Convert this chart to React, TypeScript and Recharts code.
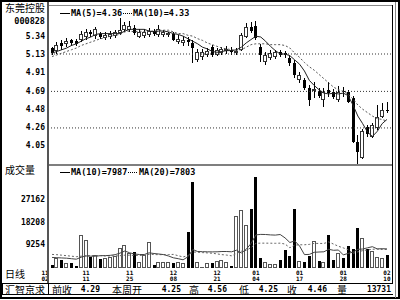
import React from "react"
import { ComposedChart, Bar, Line, XAxis, YAxis, ReferenceLine } from "recharts"

// daily candles
const opens = [
  5.20, 5.17, 5.26, 5.25, 5.29, 5.28, 5.30, 5.33, 5.39, 5.34,
  5.37, 5.32, 5.33, 5.34, 5.38, 5.41, 5.41, 5.44, 5.33, 5.34,
  5.35, 5.40, 5.35, 5.35, 5.36, 5.37, 5.27, 5.26, 5.30, 5.26,
  5.06, 5.10, 5.12, 5.21, 5.12, 5.14, 5.16, 5.18, 5.15, 5.18,
  5.33, 5.45, 5.46, 5.21, 5.04, 5.08, 5.10, 5.15, 5.14, 5.08,
  5.02, 4.82, 4.82, 4.73, 4.69, 4.70, 4.59, 4.71, 4.68, 4.59,
  4.70, 4.68, 4.61, 4.10, 3.91, 4.27, 4.15, 4.26, 4.39, 4.47,
]
const highs = [
  5.21, 5.27, 5.30, 5.32, 5.31, 5.31, 5.40, 5.42, 5.41, 5.45,
  5.39, 5.39, 5.40, 5.41, 5.55, 5.51, 5.52, 5.47, 5.42, 5.42,
  5.44, 5.42, 5.47, 5.41, 5.39, 5.39, 5.35, 5.34, 5.33, 5.29,
  5.19, 5.19, 5.20, 5.24, 5.20, 5.21, 5.23, 5.21, 5.20, 5.38,
  5.49, 5.51, 5.52, 5.25, 5.15, 5.18, 5.18, 5.18, 5.17, 5.12,
  5.06, 4.92, 4.85, 4.77, 4.80, 4.73, 4.73, 4.80, 4.72, 4.75,
  4.74, 4.71, 4.64, 4.18, 4.25, 4.29, 4.32, 4.53, 4.55, 4.56,
]
const lows = [
  5.12, 5.13, 5.18, 5.21, 5.23, 5.22, 5.27, 5.30, 5.33, 5.31,
  5.31, 5.29, 5.31, 5.32, 5.35, 5.39, 5.39, 5.35, 5.32, 5.32,
  5.33, 5.34, 5.33, 5.33, 5.33, 5.28, 5.25, 5.22, 5.23, 5.02,
  5.04, 5.06, 5.10, 5.10, 5.11, 5.12, 5.13, 5.12, 5.12, 5.16,
  5.32, 5.38, 5.30, 5.04, 5.00, 5.06, 5.07, 5.10, 5.08, 4.99,
  4.85, 4.79, 4.71, 4.52, 4.61, 4.61, 4.51, 4.62, 4.60, 4.56,
  4.63, 4.55, 4.08, 3.83, 3.89, 4.15, 4.14, 4.24, 4.38, 4.43,
]
const closes = [
  5.14, 5.24, 5.22, 5.28, 5.26, 5.25, 5.37, 5.39, 5.36, 5.42,
  5.33, 5.35, 5.37, 5.39, 5.41, 5.47, 5.46, 5.38, 5.39, 5.39,
  5.40, 5.37, 5.43, 5.39, 5.38, 5.30, 5.31, 5.30, 5.27, 5.20,
  5.15, 5.15, 5.17, 5.12, 5.18, 5.19, 5.19, 5.15, 5.17, 5.35,
  5.45, 5.40, 5.32, 5.12, 5.12, 5.14, 5.155, 5.12, 5.12, 5.03,
  4.88, 4.88, 4.73, 4.59, 4.72, 4.64, 4.68, 4.67, 4.62, 4.68,
  4.68, 4.57, 4.10, 3.98, 4.22, 4.19, 4.30, 4.39, 4.47, 4.46,
]
const ma5 = [
  5.14, 5.16, 5.18, 5.20, 5.23, 5.25, 5.28, 5.31, 5.33, 5.36,
  5.37, 5.37, 5.37, 5.37, 5.37, 5.40, 5.42, 5.42, 5.42, 5.42,
  5.40, 5.39, 5.40, 5.40, 5.39, 5.37, 5.36, 5.34, 5.31, 5.28,
  5.25, 5.21, 5.19, 5.16, 5.15, 5.16, 5.17, 5.17, 5.18, 5.21,
  5.26, 5.30, 5.34, 5.33, 5.28, 5.22, 5.17, 5.13, 5.13, 5.11,
  5.06, 5.01, 4.93, 4.82, 4.76, 4.71, 4.67, 4.66, 4.67, 4.66,
  4.67, 4.64, 4.53, 4.40, 4.31, 4.21, 4.16, 4.22, 4.31, 4.36,
]
const ma10 = [
  5.10, 5.12, 5.14, 5.16, 5.18, 5.20, 5.23, 5.25, 5.27, 5.29,
  5.31, 5.32, 5.34, 5.35, 5.36, 5.39, 5.40, 5.39, 5.40, 5.39,
  5.40, 5.40, 5.41, 5.41, 5.41, 5.39, 5.37, 5.37, 5.35, 5.34,
  5.31, 5.29, 5.26, 5.24, 5.22, 5.20, 5.19, 5.18, 5.17, 5.18,
  5.21, 5.24, 5.25, 5.25, 5.25, 5.24, 5.24, 5.24, 5.23, 5.20,
  5.14, 5.09, 5.03, 4.98, 4.94, 4.89, 4.84, 4.79, 4.74, 4.71,
  4.69, 4.66, 4.60, 4.53, 4.48, 4.44, 4.40, 4.37, 4.36, 4.34,
]
const volumes = [
  1190, 3980, 3180, 1990, 1990, 600, 13130, 11140, 4380, 5170,
  3580, 3980, 4380, 4780, 7960, 9150, 5970, 6370, 2390, 5170,
  10350, 1190, 2390, 2390, 2390, 1990, 2390, 1990, 14330, 34230,
  2390, 400, 1990, 1990, 2790, 3180, 2390, 800, 20700, 23080,
  17110, 23480, 36220, 3980, 2390, 1590, 1590, 3180, 7160, 4780,
  23480, 2790, 2390, 4780, 10750, 2790, 2390, 13130, 3180, 5970,
  3980, 8760, 7560, 15920, 11940, 7560, 6770, 4380, 3980, 5170,
]
const volMa10 = [
  4200, 4100, 4000, 3900, 3700, 3500, 4300, 4800, 4700, 4677,
  4916, 4916, 5035, 5314, 5911, 6766, 6050, 5572, 5373, 5373,
  6050, 5771, 5572, 5333, 4776, 4060, 3701, 3264, 4458, 7363,
  6567, 6487, 6448, 6408, 6448, 6567, 6567, 6448, 7084, 5970,
  7443, 9751, 13174, 13373, 13333, 13174, 13094, 13333, 11980, 10149,
  10786, 8716, 5333, 5413, 6249, 6368, 6448, 7443, 7045, 7164,
  5214, 5811, 6328, 7443, 7562, 8040, 8477, 7602, 7681, 7602,
]
const volMa20 = [
  5400, 5300, 5100, 4900, 4700, 4500, 4700, 4900, 4900, 4900,
  4900, 4800, 4800, 4800, 4900, 5100, 5100, 5000, 5000, 5025,
  5483, 5343, 5304, 5323, 5343, 5413, 4876, 4418, 4915, 6368,
  6308, 6129, 6010, 5871, 5612, 5313, 5134, 4856, 5771, 6667,
  7005, 8119, 9811, 9890, 9890, 9870, 9831, 9890, 9532, 8060,
  9114, 9234, 9254, 9393, 9791, 9771, 9771, 10388, 9512, 8657,
  8000, 7264, 5831, 6428, 6905, 7204, 7463, 7522, 7363, 7383,
]

const priceTicks = [5.34, 5.13, 4.91, 4.69, 4.48, 4.26, 4.05]
const priceGrid = [5.13, 4.69, 4.26]
const volumeTicks = [27162, 18208, 9254]
const dateTickIdx = [0, 7, 16, 25, 34, 42, 51, 60, 69]
const dateTickMonth = ["11", "11", "11", "12", "12", "01", "01", "01", "02"]
const dateTickDay = ["02", "11", "25", "08", "21", "04", "17", "28", "10"]

const statusLabels = ["前收", "本周开", "高", "低", "收", "量"]
const statusValues = ["4.29", "4.25", "4.56", "4.25", "4.46", "13731"]

const rows = closes.map((close, i) => ({
  idx: i,
  open: opens[i],
  high: highs[i],
  low: lows[i],
  close,
  range: [lows[i], highs[i]],
  ma5: ma5[i],
  ma10: ma10[i],
  vol: volumes[i],
  vma10: volMa10[i],
  vma20: volMa20[i],
}))

const mono = "'DejaVu Sans Mono', monospace"
const cjk = "'Noto Sans CJK SC', sans-serif"
const xPad = { left: 1.6, right: 2.6 }

function Candle(props: any) {
  const { x, y, width, height, payload } = props
  if (x == null || !payload) return <g />
  const top = Math.min(y, y + height)
  const span = Math.abs(height)
  const k = span / (payload.high - payload.low)
  const cx = Math.round(x + width / 2)
  const yOf = (p: number) => top + (payload.high - p) * k
  const y1 = Math.round(yOf(Math.max(payload.open, payload.close)))
  const y2 = Math.round(yOf(Math.min(payload.open, payload.close)))
  const up = payload.close > payload.open
  return (
    <g>
      <line x1={cx + 0.5} x2={cx + 0.5} y1={Math.round(top)} y2={Math.round(top + span)} stroke="#000" />
      {up ? (
        <rect x={cx - 1.5} y={y1 + 0.5} width={3} height={Math.max(y2 - y1 - 1, 1)} fill="#fff" stroke="#333" />
      ) : (
        <rect x={cx - 1} y={y1} width={3} height={Math.max(y2 - y1, 1)} fill="#000" />
      )}
    </g>
  )
}

function VolumeBar(props: any) {
  const { x, y, width, height, payload } = props
  if (x == null || !payload) return <g />
  const cx = Math.round(x + width / 2)
  const top = Math.round(Math.min(y, y + height))
  const bottom = Math.round(Math.max(y, y + height))
  const up = payload.close > payload.open
  return up ? (
    <rect x={cx - 1.5} y={top + 0.5} width={3} height={Math.max(bottom - top - 1, 1)} fill="#fff" stroke="#555" />
  ) : (
    <rect x={cx - 1} y={top} width={3} height={Math.max(bottom - top, 1)} fill="#000" />
  )
}

function PriceTick(props: any) {
  const { y, payload } = props
  return (
    <text x={45} y={y} textAnchor="end" dominantBaseline="central" fontFamily={mono} fontWeight="bold" fontSize={8} fill="#000">
      {Number(payload.value).toFixed(2)}
    </text>
  )
}

function VolumeTick(props: any) {
  const { y, payload } = props
  return (
    <text x={45} y={y} textAnchor="end" dominantBaseline="central" fontFamily={mono} fontWeight="bold" fontSize={8} fill="#000">
      {payload.value}
    </text>
  )
}

function DateTick(props: any) {
  const { x, payload } = props
  const k = dateTickIdx.indexOf(Number(payload.value))
  if (k < 0) return <g />
  const tx = k === 0 ? x - 7 : x
  return (
    <g>
      <text x={tx} y={110} textAnchor="middle" fontFamily={mono} fontWeight="bold" fontSize={6} fill="#000">
        {dateTickMonth[k]}
      </text>
      <text x={tx} y={116.2} textAnchor="middle" fontFamily={mono} fontWeight="bold" fontSize={6} fill="#000">
        {dateTickDay[k]}
      </text>
    </g>
  )
}

export default function App() {
  const statusX = [52, 112, 189, 239, 287, 337]
  const statusEnd = [100, 181, 227, 278, 327, 391]
  return (
    <div style={{ position: "absolute", left: 0, top: 0, width: 400, height: 300, background: "#fff", overflow: "hidden" }}>
      <div style={{ position: "absolute", left: 0, top: 5 }}>
        <ComposedChart width={392} height={160} data={rows} margin={{ top: 0, right: 0, bottom: 0, left: 0 }}>
          <XAxis dataKey="idx" hide padding={xPad} />
          <YAxis
            width={48}
            type="number"
            domain={[3.8241, 5.7065]}
            allowDataOverflow
            ticks={priceTicks}
            interval={0}
            axisLine={false}
            tickLine={false}
            tick={<PriceTick />}
          />
          {priceGrid.map((p) => (
            <ReferenceLine key={p} y={p} stroke="#333" strokeDasharray="1 2" />
          ))}
          <Bar dataKey="range" shape={Candle} barSize={4} isAnimationActive={false} />
          <Line dataKey="ma10" stroke="#555" strokeWidth={1} strokeDasharray="2 2" dot={false} isAnimationActive={false} />
          <Line dataKey="ma5" stroke="#222" strokeWidth={1} dot={false} isAnimationActive={false} />
        </ComposedChart>
      </div>
      <div style={{ position: "absolute", left: 0, top: 165 }}>
        <ComposedChart width={392} height={118} data={rows} margin={{ top: 0, right: 0, bottom: 0, left: 0 }}>
          <XAxis
            dataKey="idx"
            height={15}
            padding={xPad}
            interval={0}
            axisLine={false}
            tickLine={false}
            tick={<DateTick />}
          />
          <YAxis
            width={48}
            type="number"
            domain={[0, 40994]}
            allowDataOverflow
            ticks={volumeTicks}
            interval={0}
            axisLine={false}
            tickLine={false}
            tick={<VolumeTick />}
          />
          <Bar dataKey="vol" shape={VolumeBar} barSize={4} isAnimationActive={false} />
          <Line dataKey="vma20" stroke="#666" strokeWidth={1} strokeDasharray="2 2" dot={false} isAnimationActive={false} />
          <Line dataKey="vma10" stroke="#444" strokeWidth={1} dot={false} isAnimationActive={false} />
        </ComposedChart>
      </div>
      <svg width={400} height={300} style={{ position: "absolute", left: 0, top: 0, pointerEvents: "none" }}>
        <rect x={1} y={1} width={398} height={297} fill="none" stroke="#000" strokeWidth={2} />
        <line x1={392.5} y1={5} x2={392.5} y2={283} stroke="#000" />
        <line x1={395.5} y1={2} x2={395.5} y2={298} stroke="#888" />
        <line x1={48} y1={5.5} x2={392} y2={5.5} stroke="#888" />
        <line x1={48} y1={2} x2={48} y2={283} stroke="#555" strokeWidth={2} />
        <line x1={48} y1={165} x2={392} y2={165} stroke="#555" strokeWidth={1.5} />
        <line x1={2} y1={283.5} x2={393} y2={283.5} stroke="#000" />
        <line x1={2} y1={294.5} x2={393} y2={294.5} stroke="#000" />
        <rect x={2.5} y={283.5} width={46} height={11} fill="none" stroke="#000" />

        <text x={5} y={7} dominantBaseline="central" fontFamily={cjk} fontSize={10} fill="#000">东莞控股</text>
        <text x={45} y={21} textAnchor="end" dominantBaseline="central" fontFamily={mono} fontWeight="bold" fontSize={8.5} fill="#000">000828</text>
        <text x={5} y={169} dominantBaseline="central" fontFamily={cjk} fontSize={10} fill="#000">成交量</text>
        <text x={5} y={273} dominantBaseline="central" fontFamily={cjk} fontSize={10} fill="#000">日线</text>

        <line x1={60} y1={13.5} x2={70} y2={13.5} stroke="#000" />
        <text x={71} y={13} dominantBaseline="central" fontFamily={mono} fontWeight="bold" fontSize={8.5} fill="#000">MA(5)=4.36</text>
        <line x1={123} y1={13.5} x2={133} y2={13.5} stroke="#000" strokeDasharray="1 1" />
        <text x={133} y={13} dominantBaseline="central" fontFamily={mono} fontWeight="bold" fontSize={8.5} fill="#000">MA(10)=4.33</text>

        <line x1={60} y1={172.5} x2={70} y2={172.5} stroke="#000" />
        <text x={71} y={172} dominantBaseline="central" fontFamily={mono} fontWeight="bold" fontSize={8.5} fill="#000">MA(10)=7987</text>
        <line x1={128} y1={172.5} x2={138} y2={172.5} stroke="#000" strokeDasharray="1 1" />
        <text x={139} y={172} dominantBaseline="central" fontFamily={mono} fontWeight="bold" fontSize={8.5} fill="#000">MA(20)=7803</text>

        <text x={5} y={289} dominantBaseline="central" fontFamily={cjk} fontSize={10} fill="#000">汇智京求</text>
        {statusLabels.map((s, i) => (
          <text key={s} x={statusX[i]} y={289} dominantBaseline="central" fontFamily={cjk} fontSize={10} fill="#000">{s}</text>
        ))}
        {statusValues.map((v, i) => (
          <text key={i} x={statusEnd[i]} y={289} textAnchor="end" dominantBaseline="central" fontFamily={mono} fontWeight="bold" fontSize={8} fill="#000">{v}</text>
        ))}
      </svg>
    </div>
  )
}
